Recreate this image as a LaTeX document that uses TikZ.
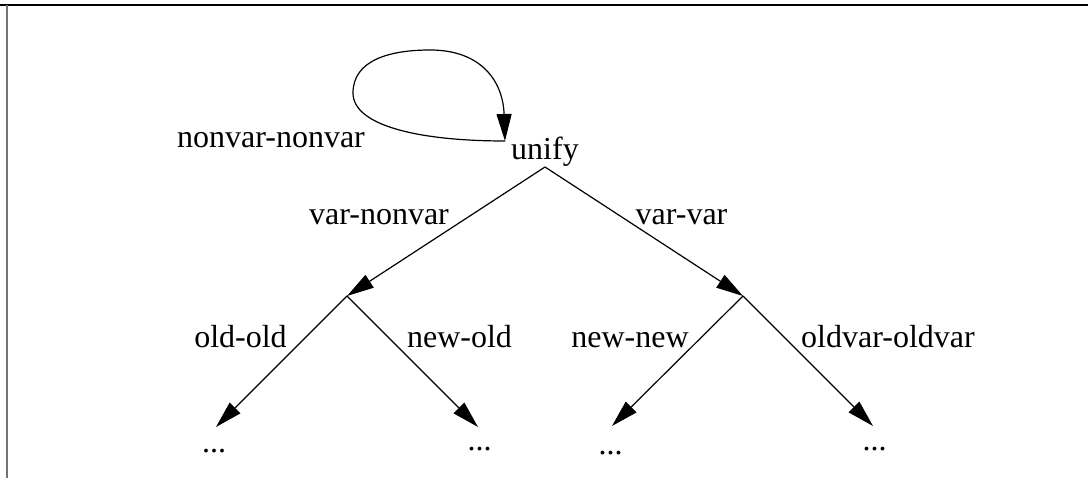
\documentclass[tikz,border=0pt]{standalone}
\usepackage{fontspec}
\setmainfont{Liberation Serif}
\usetikzlibrary{arrows.meta}
\begin{document}
\begin{tikzpicture}[x=1pt,y=-1pt,
  lbl/.style={anchor=base,inner sep=0pt,font=\fontsize{32}{38}\selectfont},
  edge/.style={line width=1.2pt,-{Triangle[length=27pt,width=15pt]}},
  plain/.style={line width=1.2pt}]
\useasboundingbox (0,0) rectangle (1088,478);
% frame
\draw[line width=1.6pt] (0,5) -- (1088,5);
\draw[line width=2pt,color=black!55] (7,5) -- (7,478);
% nodes
\node[lbl] (unify) at (545,160) {unify};
\coordinate (u) at (545,167);
\coordinate (uin) at (505,141);
\coordinate (L) at (347,296);
\coordinate (R) at (743,296);
\coordinate (t1) at (216,427);
\coordinate (t2) at (478,427);
\coordinate (t3) at (612,426);
\coordinate (t4) at (873,426);
\node[lbl] (d1) at (214,453) {...};
\node[lbl] (d2) at (479.5,450) {...};
\node[lbl] (d3) at (610.5,455) {...};
\node[lbl] (d4) at (874.5,450) {...};
% labels
\node[lbl] (lnn) at (271,148) {nonvar-nonvar};
\node[lbl] (lvn) at (379,225) {var-nonvar};
\node[lbl] (lvv) at (681.5,225) {var-var};
\node[lbl] (loo) at (240.5,348) {old-old};
\node[lbl] (lno) at (459.5,348) {new-old};
\node[lbl] (lnw) at (630,348) {new-new};
\node[lbl] (lov) at (888,348) {oldvar-oldvar};
% loop
\draw[edge] (uin) .. controls (420,141) and (353,126) .. (353,93)
  .. controls (353,60) and (390,50) .. (430,50)
  .. controls (482,50) and (503,82) .. (uin);
% edges
\draw[edge] (u) -- (L);
\draw[edge] (u) -- (R);
\draw[edge] (L) -- (t1);
\draw[edge] (L) -- (t2);
\draw[edge] (R) -- (t3);
\draw[edge] (R) -- (t4);
\end{tikzpicture}
\end{document}
